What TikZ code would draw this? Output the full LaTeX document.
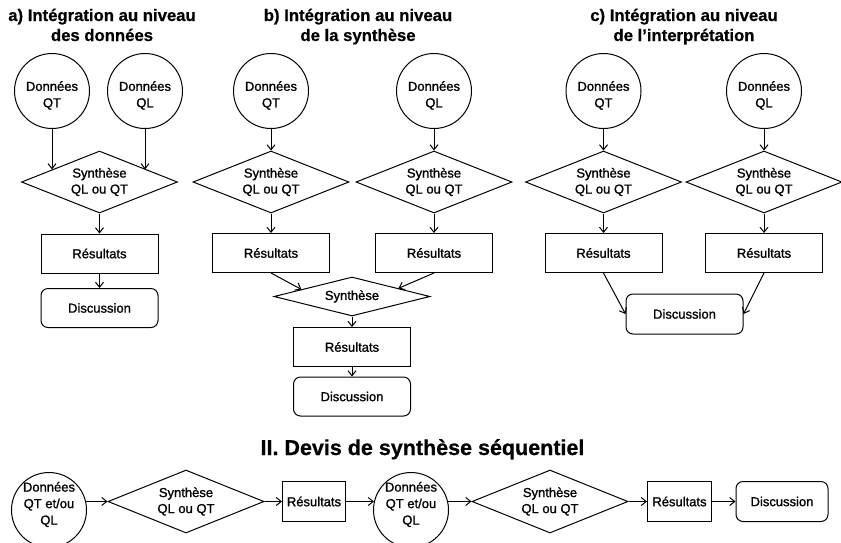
\documentclass[tikz,border=0pt]{standalone}
\usepackage{fontspec}
\setmainfont{Liberation Sans}
% slightly heavier faces for the node texts and the headings
\newfontfamily\nodefont[FakeBold=1.2]{Liberation Sans}
\newfontfamily\headfont[FakeBold=0.6]{Liberation Sans Bold}
\usetikzlibrary{shapes.geometric,arrows.meta}

\begin{document}
\begin{tikzpicture}[x=1pt,y=-1pt,
  every node/.style={font=\nodefont\fontsize{13}{16}\selectfont, align=center, line width=1pt},
  datacircle/.style={draw, circle, minimum size=75pt, inner sep=0pt},
  ctext/.style={font=\nodefont\fontsize{13}{16.5}\selectfont, align=center, inner sep=0pt},
  synthbox/.style={draw, diamond, aspect=2.5, minimum width=156pt, minimum height=62pt, inner sep=0pt},
  resbox/.style={draw, rectangle, minimum width=117pt, minimum height=39pt, inner sep=0pt},
  discbox/.style={resbox, rounded corners=7pt},
  titletext/.style={font=\headfont\fontsize{16.7}{20}\selectfont, anchor=base, inner sep=0pt},
  arrowline/.style={line width=1pt, -{Straight Barb[length=5pt,width=8pt]}},
]
\fill[white] (0,0) rectangle (841,542);
\useasboundingbox (0,0) rectangle (841,542);

% ---------- a) Intégration au niveau des données ----------
\node[titletext] (ta1) at (102,21) {a) Intégration au niveau};
\node[titletext] (ta2) at (102,41) {des données};
\node[datacircle] (aQT) at (52,91) {};
\node[ctext] (aQTt) at ([yshift=-4.5pt]aQT.center) {Données\\QT};
\node[datacircle] (aQL) at (145,91) {};
\node[ctext] (aQLt) at ([yshift=-4.5pt]aQL.center) {Données\\QL};
\node[synthbox] (aSyn) at (99.5,182) {Synthèse\\QL ou QT};
\node[resbox] (aRes) at (99.5,253.5) {Résultats};
\node[discbox] (aDis) at (99.5,308) {Discussion};
\draw[arrowline] (aQT.south) -- (aQT.south |- aSyn.165);
\draw[arrowline] (aQL.south) -- (aQL.south |- aSyn.15);
\draw[arrowline] (aSyn.south) -- (aRes.north);
\draw[arrowline] (aRes.south) -- (aDis.north);

% ---------- b) Intégration au niveau de la synthèse ----------
\node[titletext] (tb1) at (358,21) {b) Intégration au niveau};
\node[titletext] (tb2) at (358,41) {de la synthèse};
\node[datacircle] (bQT) at (271,91) {};
\node[ctext] (bQTt) at ([yshift=-4.5pt]bQT.center) {Données\\QT};
\node[datacircle] (bQL) at (434,91) {};
\node[ctext] (bQLt) at ([yshift=-4.5pt]bQL.center) {Données\\QL};
\node[synthbox] (bSyn1) at (271,182) {Synthèse\\QL ou QT};
\node[synthbox] (bSyn2) at (434,182) {Synthèse\\QL ou QT};
\node[resbox] (bRes1) at (271,253) {Résultats};
\node[resbox] (bRes2) at (434,253) {Résultats};
\node[synthbox, minimum height=39pt] (bSyn) at (352,296.5) {Synthèse};
\node[resbox] (bRes) at (352,347) {Résultats};
\node[discbox] (bDis) at (352,396.5) {Discussion};
\draw[arrowline] (bQT) -- (bSyn1);
\draw[arrowline] (bQL) -- (bSyn2);
\draw[arrowline] (bSyn1) -- (bRes1);
\draw[arrowline] (bSyn2) -- (bRes2);
\draw[arrowline] (bRes1.south) -- (bSyn.172);
\draw[arrowline] (bRes2.south) -- (bSyn.10);
\draw[arrowline] (bSyn) -- (bRes);
\draw[arrowline] (bRes) -- (bDis);

% ---------- c) Intégration au niveau de l'interprétation ----------
\node[titletext] (tc1) at (684,21) {c) Intégration au niveau};
\node[titletext] (tc2) at (684,41) {de l’interprétation};
\node[datacircle] (cQT) at (603.5,91) {};
\node[ctext] (cQTt) at ([yshift=-4.5pt]cQT.center) {Données\\QT};
\node[datacircle] (cQL) at (764,91) {};
\node[ctext] (cQLt) at ([yshift=-4.5pt]cQL.center) {Données\\QL};
\node[synthbox] (cSyn1) at (603.5,182) {Synthèse\\QL ou QT};
\node[synthbox] (cSyn2) at (764,182) {Synthèse\\QL ou QT};
\node[resbox] (cRes1) at (603.5,253) {Résultats};
\node[resbox] (cRes2) at (764,253) {Résultats};
\node[discbox, minimum height=40pt] (cDis) at (684.5,314) {Discussion};
\draw[arrowline] (cQT) -- (cSyn1);
\draw[arrowline] (cQL) -- (cSyn2);
\draw[arrowline] (cSyn1) -- (cRes1);
\draw[arrowline] (cSyn2) -- (cRes2);
\draw[arrowline] (cRes1.south) -- (cDis.west);
\draw[arrowline] (cRes2.south) -- (cDis.east);

% ---------- II. Devis de synthèse séquentiel ----------
\node[font=\headfont\fontsize{21.5}{26}\selectfont, anchor=base, inner sep=0pt] (t2) at (422.5,455) {II. Devis de synthèse séquentiel};
\node[datacircle] (d1) at (49,510) {};
\node[ctext] (d1t) at ([yshift=5.5pt]d1.center) {Données\\QT et/ou\\QL};
\node[synthbox, minimum height=63pt] (dSyn1) at (186,501.5) {Synthèse\\QL ou QT};
\node[resbox, minimum width=63pt, minimum height=40pt] (dRes1) at (314,501.5) {Résultats};
\node[datacircle] (d2) at (411,510) {};
\node[ctext] (d2t) at ([yshift=5.5pt]d2.center) {Données\\QT et/ou\\QL};
\node[synthbox, minimum height=63pt] (dSyn2) at (550,501.5) {Synthèse\\QL ou QT};
\node[resbox, minimum width=64pt, minimum height=40pt] (dRes2) at (679.5,501.5) {Résultats};
\node[discbox, minimum width=92pt, minimum height=40pt] (dDis) at (782,501.5) {Discussion};
\draw[arrowline] (d1.13) -- (d1.13 -| dSyn1.west);
\draw[arrowline] (dSyn1) -- (dRes1);
\draw[arrowline] (dRes1.east) -- (dRes1.east -| d2.167);
\draw[arrowline] (d2.13) -- (d2.13 -| dSyn2.west);
\draw[arrowline] (dSyn2) -- (dRes2);
\draw[arrowline] (dRes2) -- (dDis);
\end{tikzpicture}
\end{document}
